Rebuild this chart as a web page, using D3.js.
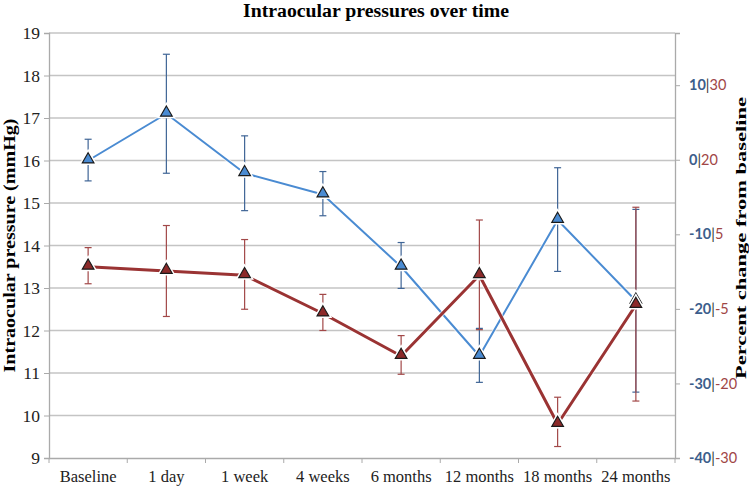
<!DOCTYPE html>
<html><head><meta charset="utf-8">
<script src="https://cdn.jsdelivr.net/npm/d3@7"></script>
<style>body{margin:0;background:#fff}</style>
</head><body>
<script>
const categories = ["Baseline","1 day","1 week","4 weeks","6 months","12 months","18 months","24 months"];
const blueMean = [16.0, 17.1, 15.7, 15.2, 13.5, 11.4, 14.6, 12.7];
const blueLow  = [15.52, 15.7, 14.82, 14.7, 12.99, 10.78, 13.39, 10.55];
const blueHigh = [16.5, 18.5, 16.58, 15.74, 14.07, 12.05, 15.83, 14.85];
const redMean  = [13.5, 13.4, 13.3, 12.4, 11.4, 13.3, 9.8, 12.6];
const redLow   = [13.1, 12.33, 12.5, 12.0, 10.97, 12.02, 9.27, 10.34];
const redHigh  = [13.95, 14.47, 14.14, 12.85, 11.88, 14.6, 10.43, 14.9];
const leftTicks = [9,10,11,12,13,14,15,16,17,18,19];
const rightTicksBlue = [-40,-30,-20,-10,0,10];
const rightTicksRed  = ["-30","-20","-5","5","20","30"];

const W = 749, H = 488;
const L = 49, R = 675, T = 33, B = 458;
const svg = d3.select("body").append("svg").attr("width", W).attr("height", H);

const x = d3.scaleBand().domain(categories).range([L, R]);
const y = d3.scaleLinear().domain([9, 19]).range([B, T]);
const y2 = d3.scaleLinear().domain([-40, 17]).range([B, T]);

const grid = "#c4c4c4";
svg.append("g").selectAll("line").data(leftTicks.slice(1)).join("line")
  .attr("x1", L).attr("x2", R).attr("y1", d => y(d)).attr("y2", d => y(d))
  .attr("stroke", grid).attr("stroke-width", 1.6);

// left axis
const gl = svg.append("g").attr("transform", `translate(${L},0)`)
  .call(d3.axisLeft(y).tickValues(leftTicks).tickSize(5).tickPadding(4).tickFormat(d3.format("d")));
gl.select(".domain").attr("stroke", "#aaa").attr("stroke-width", 1.3);
gl.selectAll(".tick line").attr("stroke", "#aaa");
gl.selectAll("text").attr("font-family", "Liberation Serif").attr("font-size", 17.5).attr("fill", "#222");

// bottom axis
const gb = svg.append("g").attr("transform", `translate(0,${B})`)
  .call(d3.axisBottom(x).tickSize(0).tickPadding(12));
gb.select(".domain").attr("stroke", "#aaa").attr("stroke-width", 1.3);
gb.selectAll("text").attr("font-family", "Liberation Serif").attr("font-size", 16.5).attr("fill", "#222");
svg.append("g").selectAll("line").data(categories.concat(["end"])).join("line")
  .attr("x1", (d, i) => L + i * x.step()).attr("x2", (d, i) => L + i * x.step())
  .attr("y1", B).attr("y2", B + 5).attr("stroke", "#aaa");

// right axis
const gr = svg.append("g").attr("transform", `translate(${R},0)`)
  .call(d3.axisRight(y2).tickValues(rightTicksBlue).tickSize(5).tickFormat(""));
gr.select(".domain").attr("stroke", "#aaa").attr("stroke-width", 1.3);
gr.selectAll(".tick line").attr("stroke", "#aaa");
const rl = svg.append("g").selectAll("text").data(rightTicksBlue).join("text")
  .attr("x", R + 14).attr("y", d => y2(d)).attr("dy", "0.35em")
  .attr("font-family", "Lato").attr("font-size", 14.5);
rl.append("tspan").attr("fill", "#3c5e8c").attr("font-weight", "bold").text(d => d);
rl.append("tspan").attr("fill", "#333").text("|");
rl.append("tspan").attr("fill", "#a04646").text((d, i) => rightTicksRed[i]);

// titles
svg.append("text").attr("x", 376).attr("y", 17).attr("text-anchor", "middle")
  .attr("font-family", "Liberation Serif").attr("font-weight", "bold").attr("font-size", 18)
  .attr("textLength", 266).attr("lengthAdjust", "spacingAndGlyphs")
  .text("Intraocular pressures over time");
svg.append("text").attr("transform", `translate(15,${(T + B) / 2}) rotate(-90)`)
  .attr("text-anchor", "middle").attr("font-family", "Liberation Serif").attr("font-weight", "bold")
  .attr("font-size", 16.5).attr("textLength", 254).attr("lengthAdjust", "spacingAndGlyphs")
  .text("Intraocular pressure (mmHg)");
svg.append("text").attr("transform", `translate(746,238) rotate(-90)`)
  .attr("text-anchor", "middle").attr("font-family", "Liberation Serif").attr("font-weight", "bold")
  .attr("font-size", 15.5).attr("textLength", 282).attr("lengthAdjust", "spacingAndGlyphs")
  .text("Percent change from baseline");

const cx = d => x(d) + x.bandwidth() / 2;

function errorBars(mean, low, high, color) {
  const g = svg.append("g").attr("stroke", color).attr("stroke-width", 1.2);
  categories.forEach((c, i) => {
    g.append("line").attr("x1", cx(c)).attr("x2", cx(c)).attr("y1", y(low[i])).attr("y2", y(high[i]));
    [low[i], high[i]].forEach(v => g.append("line").attr("x1", cx(c) - 3.5).attr("x2", cx(c) + 3.5)
      .attr("y1", y(v)).attr("y2", y(v)));
  });
}
function series(mean, lineColor, lw, fill) {
  const line = d3.line().x((d, i) => cx(categories[i])).y(d => y(d));
  svg.append("path").datum(mean).attr("d", line).attr("fill", "none")
    .attr("stroke", "#fff").attr("stroke-width", lw + 2).attr("opacity", 0.6);
  svg.append("path").datum(mean).attr("d", line).attr("fill", "none")
    .attr("stroke", lineColor).attr("stroke-width", lw).attr("stroke-linejoin", "round");
  const sym = d3.symbol().type(d3.symbolTriangle).size(60);
  svg.append("g").selectAll("path.halo").data(mean).join("path")
    .attr("transform", (d, i) => `translate(${cx(categories[i])},${y(d) - 1})`)
    .attr("d", sym).attr("fill", "#fff").attr("stroke", "#fff").attr("stroke-width", 4);
  svg.append("g").selectAll("path.m").data(mean).join("path")
    .attr("transform", (d, i) => `translate(${cx(categories[i])},${y(d) - 1})`)
    .attr("d", sym).attr("fill", fill).attr("stroke", "#1a1a1a").attr("stroke-width", 1.1);
}

errorBars(blueMean, blueLow, blueHigh, "#3f6596");
errorBars(redMean, redLow, redHigh, "#a24848");
series(blueMean, "#4a8bd2", 2, "#4a8bd2");
series(redMean, "#9a3333", 3, "#8c2a2a");
</script>
</body></html>
